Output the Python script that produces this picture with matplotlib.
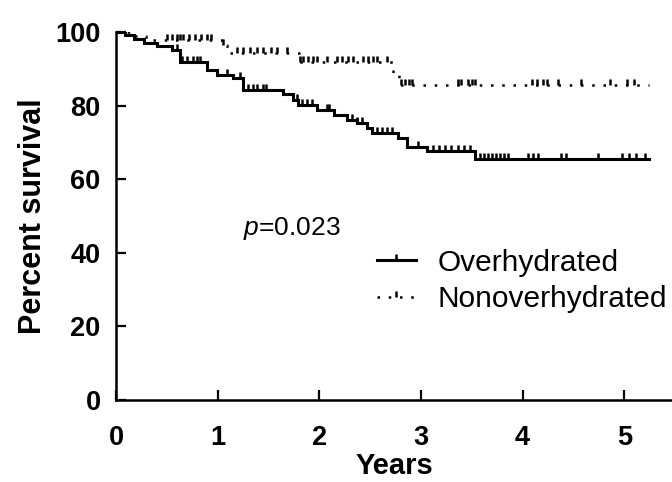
import numpy as np
import matplotlib
matplotlib.use("Agg")
import matplotlib.pyplot as plt
from matplotlib.lines import Line2D

plt.rcParams['font.family'] = ['Liberation Sans', 'DejaVu Sans']
plt.rcParams['mathtext.fontset'] = 'custom'
plt.rcParams['mathtext.rm'] = 'Liberation Sans'
plt.rcParams['mathtext.it'] = 'Liberation Sans:italic'

# Overhydrated: step times (years) and survival (%)
over_t = [0, 0.09, 0.18, 0.28, 0.40, 0.55, 0.63, 0.90, 0.99, 1.15, 1.25, 1.64, 1.74, 1.79,
          1.98, 2.14, 2.27, 2.37, 2.47, 2.52, 2.77, 2.86, 3.06, 3.53, 5.24]
over_s = [100, 99.2, 98.0, 97.0, 96.2, 95.0, 91.8, 89.7, 88.4, 87.5, 84.2, 83.2, 81.5, 80.2,
          78.8, 77.4, 76.0, 75.3, 73.9, 72.5, 71.2, 68.8, 67.6, 65.4, 65.4]
over_cens = [0.60, 0.65, 0.70, 0.76, 0.80, 0.83, 0.90, 1.09, 1.22, 1.30, 1.35, 1.39, 1.45, 1.48,
             1.78, 1.83, 1.88, 1.93, 1.98, 2.08, 2.10, 2.27, 2.32, 2.37, 2.42, 2.47,
             2.57, 2.62, 2.67, 2.72, 2.77, 2.97, 3.12, 3.18, 3.24, 3.30, 3.36, 3.42, 3.48,
             3.58, 3.62, 3.66, 3.70, 3.74, 3.78, 3.82, 3.86, 4.05, 4.10, 4.15, 4.38, 4.43,
             4.74, 4.98, 5.05, 5.12, 5.20]

# Nonoverhydrated
non_t = [0, 0.15, 0.30, 1.04, 1.09, 1.12, 1.80, 2.73, 2.78, 5.24]
non_s = [100, 99.0, 97.8, 96.5, 95.1, 94.2, 91.9, 88.3, 85.6, 85.6]
non_cens = [0.50, 0.55, 0.60, 0.63, 0.66, 0.72, 0.78, 0.84, 0.90, 0.93, 1.05, 1.19, 1.25, 1.32,
            1.39, 1.45, 1.52, 1.58, 1.68, 1.81, 1.84, 1.89, 1.94, 1.98, 2.08, 2.17, 2.22,
            2.28, 2.33, 2.43, 2.48, 2.53, 2.57, 2.67, 2.80, 2.84, 2.88, 2.91, 3.36, 3.39,
            3.46, 3.50, 3.53, 4.09, 4.14, 4.20, 4.24, 4.35, 4.57, 4.86, 5.03, 5.10]

xticks = [0, 1, 2, 3, 4, 5]
yticks = [0, 20, 40, 60, 80, 100]


def surv_at(times, t_arr, s_arr):
    idx = np.searchsorted(np.asarray(t_arr), np.asarray(times), side='right') - 1
    return np.asarray(s_arr)[idx]


fig = plt.figure(figsize=(6.72, 4.82), dpi=100)
ax = fig.add_axes([116 / 672, 1 - 400 / 482, 1 - 116 / 672, (400 - 32) / 482])

tick_marker = [(0, 0), (0, 1)]

ax.step(over_t, over_s, where='post', color='black', lw=2.2, solid_joinstyle='miter')
ax.plot(over_cens, surv_at(over_cens, over_t, over_s), ls='none', marker=tick_marker,
        ms=9, mew=1.8, color='black')

ax.step(non_t, non_s, where='post', color='black', lw=1.8, ls=(0, (1, 3.5)))
ax.plot(non_cens, surv_at(non_cens, non_t, non_s), ls='none', marker=tick_marker,
        ms=9, mew=1.8, color='black')

ax.set_xlim(0, 5.47)
ax.set_ylim(0, 100)
ax.set_xticks(xticks)
ax.set_yticks(yticks)
ax.spines['top'].set_visible(False)
ax.spines['right'].set_visible(False)
for s in ['left', 'bottom']:
    ax.spines[s].set_linewidth(1.8)
ax.tick_params(direction='in', length=7, width=1.6, labelsize=19.5)
ax.tick_params(axis='x', pad=18)
ax.tick_params(axis='y', pad=11)
for lab in ax.get_xticklabels() + ax.get_yticklabels():
    lab.set_fontweight('bold')
ax.set_xlabel('Years', fontsize=21, fontweight='bold', labelpad=0.5)
ax.set_ylabel('Percent survival', fontsize=22, fontweight='bold', labelpad=5)

ax.text(1.25, 46.7, '$p$=0.023', fontsize=19, va='center', ha='left')

h1 = Line2D([], [], color='black', lw=2.2, marker=tick_marker, ms=9, mew=1.8)
h2 = Line2D([], [], color='black', lw=1.8, ls=(0, (1, 3.5)), marker=tick_marker, ms=9, mew=1.8)
leg = ax.legend([h1, h2], ['Overhydrated', 'Nonoverhydrated'], loc='center left',
                bbox_to_anchor=((377 - 116) / 556, (400 - 281) / 368), frameon=False,
                fontsize=21.5, handlelength=1.3, handletextpad=0.72, labelspacing=0.3,
                borderpad=0, borderaxespad=0, numpoints=1)

fig.savefig('out.png', dpi=100)
